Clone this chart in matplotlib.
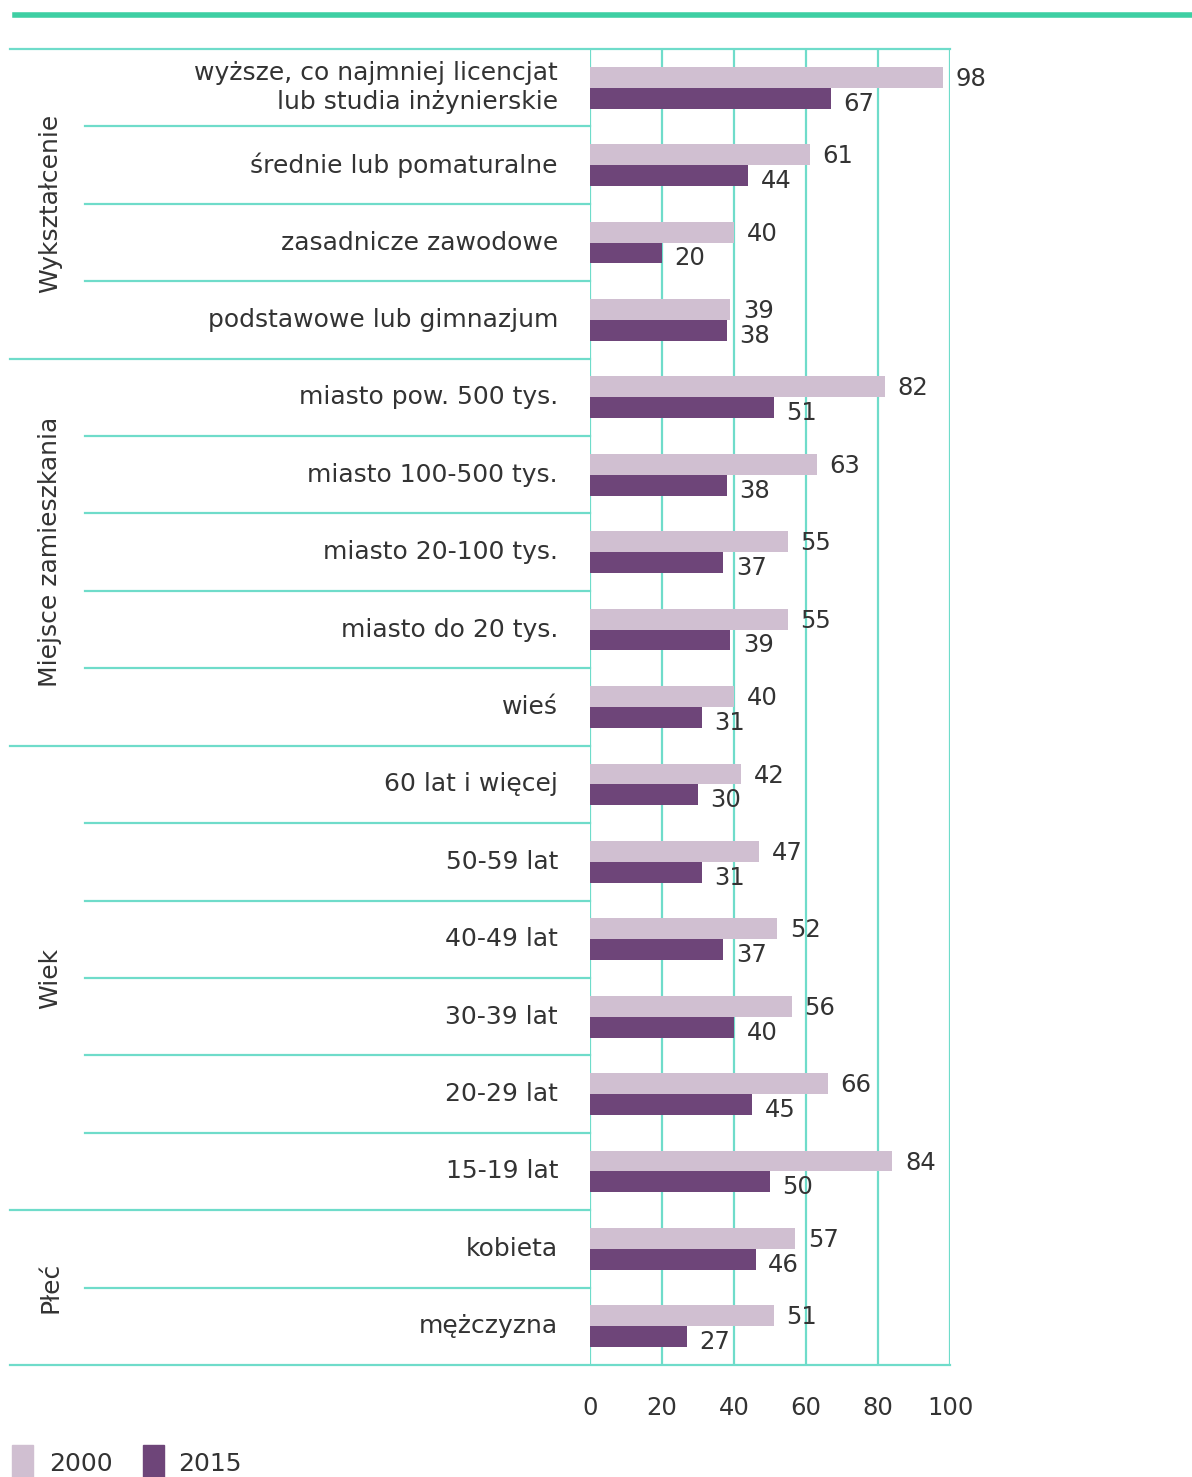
import matplotlib
matplotlib.use("Agg")
import matplotlib.pyplot as plt
from matplotlib.lines import Line2D
from matplotlib.patches import Rectangle
from matplotlib.transforms import blended_transform_factory

categories = [
    "wyższe, co najmniej licencjat\nlub studia inżynierskie",
    "średnie lub pomaturalne",
    "zasadnicze zawodowe",
    "podstawowe lub gimnazjum",
    "miasto pow. 500 tys.",
    "miasto 100-500 tys.",
    "miasto 20-100 tys.",
    "miasto do 20 tys.",
    "wieś",
    "60 lat i więcej",
    "50-59 lat",
    "40-49 lat",
    "30-39 lat",
    "20-29 lat",
    "15-19 lat",
    "kobieta",
    "mężczyzna",
]
values_2000 = [98, 61, 40, 39, 82, 63, 55, 55, 40, 42, 47, 52, 56, 66, 84, 57, 51]
values_2015 = [67, 44, 20, 38, 51, 38, 37, 39, 31, 30, 31, 37, 40, 45, 50, 46, 27]
group_names = ["Wykształcenie", "Miejsce zamieszkania", "Wiek", "Płeć"]
group_sizes = [4, 5, 6, 2]
x_ticks = [0, 20, 40, 60, 80, 100]
series_names = ["2000", "2015"]

W, H = 1192, 1477
C_LIGHT = "#d0bfd1"
C_DARK = "#6e4579"
C_LINE = "#6fdcca"
C_TOP = "#3ecfa3"
C_TEXT = "#333333"
FONT = ["DejaVu Sans"]
FS = 18
FS_NUM = 17.5

plt.rcParams["font.family"] = FONT

fig = plt.figure(figsize=(W / 100, H / 100), dpi=100)
fig.patch.set_facecolor("white")

ax_l, ax_r, ax_t, ax_b = 590, 950, 49, 1365
ax = fig.add_axes([ax_l / W, 1 - ax_b / H, (ax_r - ax_l) / W, (ax_b - ax_t) / H])
n = len(categories)
ax.set_xlim(0, 100)
ax.set_ylim(n, 0)
for s in ax.spines.values():
    s.set_visible(False)
ax.set_yticks([])
ax.set_xticks(x_ticks)
ax.tick_params(axis="x", length=0, pad=22, labelsize=FS_NUM, labelcolor=C_TEXT)
ax.xaxis.grid(True, color=C_LINE, lw=1.6)
ax.set_axisbelow(True)

def axfrac(px):
    return (px - ax_l) / (ax_r - ax_l)

bt = blended_transform_factory(ax.transAxes, ax.transData)

h = 0.27
centers = [i + 0.5 for i in range(n)]
ax.barh([c - h / 2 for c in centers], values_2000, height=h, color=C_LIGHT, zorder=3)
ax.barh([c + h / 2 for c in centers], values_2015, height=h, color=C_DARK, zorder=3)

for c, v1, v2 in zip(centers, values_2000, values_2015):
    ax.annotate(str(v1), (v1, c - h / 2 + 0.02), xytext=(9, 0), textcoords="offset points",
                ha="left", va="center", fontsize=FS_NUM, color=C_TEXT, zorder=5)
    ax.annotate(str(v2), (v2, c + h / 2 + 0.07), xytext=(9, 0), textcoords="offset points",
                ha="left", va="center", fontsize=FS_NUM, color=C_TEXT, zorder=5)

for c, lab in zip(centers, categories):
    ax.text(axfrac(558), c, lab, transform=bt, ha="right", va="center",
            fontsize=FS, color=C_TEXT, linespacing=1.25)

# horizontal lines
ax.plot([axfrac(10), 1], [0, 0], transform=bt, color=C_LINE, lw=1.6, clip_on=False)
ax.plot([axfrac(10), 1], [n, n], transform=bt, color=C_LINE, lw=1.6, clip_on=False)
boundaries = set()
acc = 0
for g in group_sizes[:-1]:
    acc += g
    boundaries.add(acc)
for k in range(1, n):
    start = axfrac(10) if k in boundaries else axfrac(85)
    ax.plot([start, 0], [k, k], transform=bt, color=C_LINE, lw=1.6, clip_on=False)

# group labels
acc = 0
for name, g in zip(group_names, group_sizes):
    mid = acc + g / 2
    ax.text(axfrac(50), mid, name, transform=bt, rotation=90, ha="center", va="center",
            fontsize=FS, color=C_TEXT)
    acc += g

# top thick line
fig.add_artist(Line2D([15 / W, 1], [1 - 15 / H, 1 - 15 / H], transform=fig.transFigure,
                      color=C_TOP, lw=4))

# legend
fig.add_artist(Rectangle((12 / W, 0), 21 / W, (H - 1445) / H, transform=fig.transFigure,
                         color=C_LIGHT))
fig.text(49 / W, 1 - 1464 / H, series_names[0], ha="left", va="center", fontsize=FS, color=C_TEXT)
fig.add_artist(Rectangle((143 / W, 0), 21 / W, (H - 1445) / H, transform=fig.transFigure,
                         color=C_DARK))
fig.text(178 / W, 1 - 1464 / H, series_names[1], ha="left", va="center", fontsize=FS, color=C_TEXT)

fig.savefig("out.png", dpi=100)
